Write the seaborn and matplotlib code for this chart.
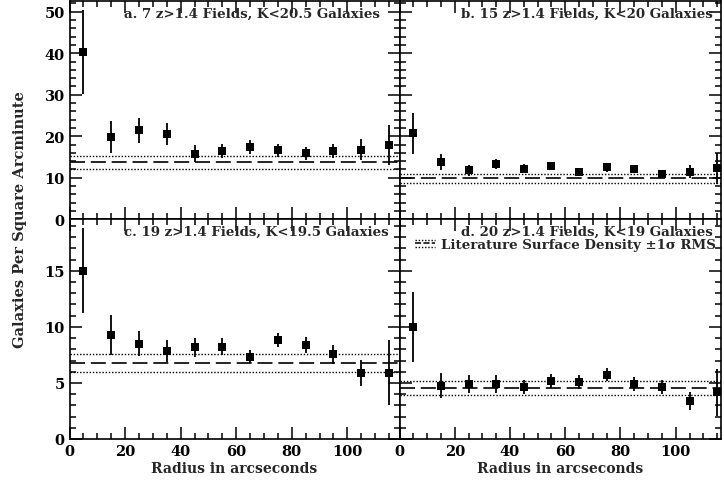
import numpy as np
import pandas as pd
import seaborn as sns
import matplotlib
matplotlib.use("Agg")
import matplotlib.pyplot as plt
from matplotlib.lines import Line2D
from matplotlib.legend_handler import HandlerBase
from matplotlib.ticker import MultipleLocator

# ---------------- data ----------------
radius = [5, 15, 25, 35, 45, 55, 65, 75, 85, 95, 105, 115]

a_val = [40.3, 19.8, 21.4, 20.6, 15.8, 16.5, 17.4, 16.6, 15.9, 16.4, 16.8, 18.0]
a_err = [10.2, 3.9, 3.0, 2.7, 2.0, 1.7, 1.6, 1.5, 1.5, 1.7, 2.6, 4.8]
b_val = [20.7, 13.8, 11.8, 13.3, 12.2, 12.9, 11.4, 12.5, 12.1, 11.0, 11.5, 12.3]
b_err = [4.9, 2.0, 1.3, 1.3, 1.1, 1.0, 0.9, 1.0, 1.0, 0.9, 1.5, 3.7]
c_val = [15.0, 9.3, 8.5, 7.85, 8.2, 8.25, 7.35, 8.85, 8.4, 7.55, 5.87, 5.9]
c_err = [3.8, 1.8, 1.1, 0.95, 0.85, 0.8, 0.6, 0.65, 0.7, 0.85, 1.15, 2.9]
d_val = [10.0, 4.77, 4.92, 4.92, 4.62, 5.16, 5.07, 5.75, 4.92, 4.62, 3.43, 4.17]
d_err = [3.1, 1.1, 0.8, 0.8, 0.6, 0.6, 0.6, 0.6, 0.6, 0.6, 0.8, 2.1]

lit_mean = [13.75, 9.85, 6.8, 4.53]
lit_rms = [1.55, 1.0, 0.8, 0.6]

titles = ["a. 7 z>1.4 Fields, K<20.5 Galaxies",
          "b. 15 z>1.4 Fields, K<20 Galaxies",
          "c. 19 z>1.4 Fields, K<19.5 Galaxies",
          "d. 20 z>1.4 Fields, K<19 Galaxies"]
legend_label = "Literature Surface Density \u00b11\u03c3 RMS"
xlabel = "Radius in arcseconds"
ylabel = "Galaxies Per Square Arcminute"

# ---------------- style ----------------
sns.set_theme(style="ticks")
plt.rcParams["font.family"] = ["DejaVu Serif"]
plt.rcParams["font.weight"] = "bold"
plt.rcParams["axes.linewidth"] = 1.2

W, H = 724, 485
fig = plt.figure(figsize=(W / 100, H / 100), dpi=100)


def px_rect(x0, x1, ytop, ybot):
    return [x0 / W, 1 - ybot / H, (x1 - x0) / W, (ybot - ytop) / H]


ax_a = fig.add_axes(px_rect(69.5, 399.5, 2, 220.3))
ax_b = fig.add_axes(px_rect(399.5, 721, 2, 220.3))
ax_c = fig.add_axes(px_rect(69.5, 399.5, 220.3, 440))
ax_d = fig.add_axes(px_rect(399.5, 721, 220.3, 440))
axes = [ax_a, ax_b, ax_c, ax_d]
vals = [a_val, b_val, c_val, d_val]
errs = [a_err, b_err, c_err, d_err]
xlims = [118.8, 116.4, 118.8, 116.4]
ylims = [52.6, 52.6, 19.6, 19.6]
title_x = [0.941, 0.975, 0.968, 0.975]

for i, ax in enumerate(axes):
    df = pd.DataFrame({"r": radius, "v": vals[i], "e": errs[i]})
    ax.errorbar(df["r"], df["v"], yerr=df["e"], fmt="none", ecolor="black",
                elinewidth=1.3, capsize=0, zorder=3)
    sns.scatterplot(data=df, x="r", y="v", ax=ax, marker="s", s=30,
                    color="black", edgecolor="black", linewidth=0, zorder=4,
                    legend=False)
    m, s = lit_mean[i], lit_rms[i]
    ax.axhline(m, color="black", lw=1.2, dashes=(9, 3.5), zorder=2)
    ax.axhline(m + s, color="black", lw=1.0, dashes=(1, 1.3), zorder=2)
    ax.axhline(m - s, color="black", lw=1.0, dashes=(1, 1.3), zorder=2)

    ax.set_xlim(0, xlims[i])
    ax.set_ylim(0, ylims[i])
    ax.xaxis.set_major_locator(MultipleLocator(20))
    ax.xaxis.set_minor_locator(MultipleLocator(5))
    if i < 2:
        ax.yaxis.set_major_locator(MultipleLocator(10))
        ax.yaxis.set_minor_locator(MultipleLocator(2))
    else:
        ax.yaxis.set_major_locator(MultipleLocator(5))
        ax.yaxis.set_minor_locator(MultipleLocator(1))
    ax.tick_params(which="both", direction="in", top=True, right=True,
                   width=1.1, colors="black", labelsize=10.5, pad=3.5)
    ax.tick_params(which="major", length=8.5)
    ax.tick_params(which="minor", length=4.5)
    for sp in ax.spines.values():
        sp.set_visible(True)
        sp.set_color("black")
    ax.set_xlabel("")
    ax.set_ylabel("")
    if i % 2 == 1:
        ax.tick_params(labelleft=False)
    if i < 2:
        ax.tick_params(labelbottom=False)
    else:
        ax.set_xlabel(xlabel, fontsize=10, fontweight="bold", labelpad=2.5)
    ax.text(title_x[i], 0.945 if i < 2 else 0.944, titles[i],
            transform=ax.transAxes, ha="right", va="center", fontsize=9.6,
            fontweight="bold")


class TripleLine(HandlerBase):
    def create_artists(self, legend, orig_handle, xdescent, ydescent,
                       width, height, fontsize, trans):
        arts = []
        for frac, dash, lw in [(0.9, (1, 1.3), 1.0), (0.5, (4, 1.5), 1.1),
                               (0.1, (1, 1.3), 1.0)]:
            y = -ydescent + frac * height
            ln = Line2D([-xdescent, -xdescent + width], [y, y], color="black",
                        lw=lw, dashes=dash, transform=trans)
            arts.append(ln)
        return arts


proxy = Line2D([], [], color="black")
leg = ax_d.legend([proxy], [legend_label], handler_map={Line2D: TripleLine()},
                  loc="upper right", bbox_to_anchor=(0.985, 0.915),
                  frameon=False, prop={"size": 9.6, "weight": "bold"},
                  handlelength=1.5, handletextpad=0.5, borderaxespad=0,
                  borderpad=0)

fig.text(20 / W, 1 - 220 / H, ylabel, rotation=90, ha="center", va="center",
         fontsize=10.5, fontweight="bold")

fig.savefig("out.png", dpi=100)
